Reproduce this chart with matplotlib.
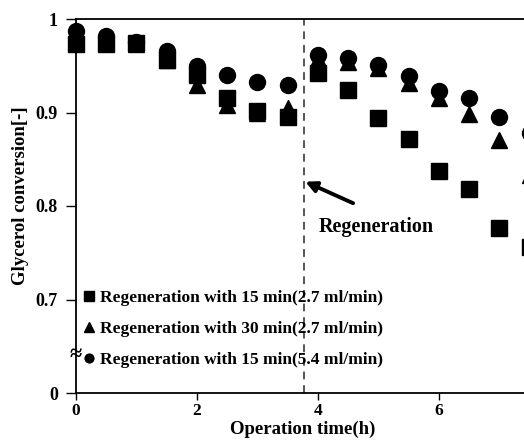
import matplotlib

matplotlib.use("Agg")

import matplotlib.pyplot as plt

plt.rcParams["font.family"] = ["Liberation Serif", "DejaVu Serif"]
plt.rcParams["font.weight"] = "bold"

# operation time (h)
hours = [0, 0.5, 1.0, 1.5, 2.0, 2.5, 3.0, 3.5, 4.0, 4.5, 5.0, 5.5, 6.0, 6.5, 7.0, 7.5]

# glycerol conversion [-]
regen_15min_27 = [0.973, 0.973, 0.974, 0.956, 0.940, 0.915, 0.902, 0.895,
                  0.942, 0.924, 0.894, 0.872, 0.837, 0.818, 0.776, 0.756]
regen_30min_27 = [0.975, 0.975, 0.973, 0.956, 0.929, 0.908, 0.900, 0.905,
                  0.957, 0.954, 0.948, 0.932, 0.916, 0.898, 0.871, 0.833]
regen_15min_54 = [0.987, 0.982, 0.975, 0.966, 0.950, 0.940, 0.933, 0.929,
                  0.962, 0.958, 0.951, 0.939, 0.923, 0.915, 0.895, 0.878]

series_labels = [
    "Regeneration with 15 min(2.7 ml/min)",
    "Regeneration with 30 min(2.7 ml/min)",
    "Regeneration with 15 min(5.4 ml/min)",
]

y_ticks = [0.6, 0.7, 0.8, 0.9, 1.0]
y_tick_labels = ["0", "0.7", "0.8", "0.9", "1"]
x_ticks = [0, 2, 4, 6]
regen_time = 3.77

fig = plt.figure(figsize=(5.24, 4.43), dpi=100)
ax = fig.add_axes([76 / 524, 50 / 443, 448 / 524, 374 / 443])

ax.plot(hours, regen_15min_27, ls="none", marker="s", ms=12, color="black",
        clip_on=False, label=series_labels[0])
ax.plot(hours, regen_30min_27, ls="none", marker="^", ms=12, color="black",
        clip_on=False, label=series_labels[1])
ax.plot(hours, regen_15min_54, ls="none", marker="o", ms=11.5, color="black",
        clip_on=False, label=series_labels[2])

ax.axvline(regen_time, color="#555555", ls=(0, (4, 3)), lw=1.4)
ax.annotate("", xy=(3.79, 0.826), xytext=(4.58, 0.803),
            arrowprops=dict(arrowstyle="-|>", color="black", lw=2.8,
                            mutation_scale=16, shrinkA=0, shrinkB=0))
ax.text(4.96, 0.778, "Regeneration", ha="center", va="center",
        fontsize=14.5, fontweight="bold")

ax.set_xlim(0, 7.405)
ax.set_ylim(0.6, 1.0)
ax.set_xticks(x_ticks)
ax.set_yticks(y_ticks)
ax.set_yticklabels(y_tick_labels)
ax.tick_params(axis="y", direction="out", length=7, width=1, labelsize=13, pad=6)
ax.tick_params(axis="x", direction="out", length=5, width=1, labelsize=12.5, pad=2)
for lab in ax.get_xticklabels() + ax.get_yticklabels():
    lab.set_fontweight("bold")

for side in ["left", "bottom", "top"]:
    ax.spines[side].set_linewidth(1.3)
ax.spines["right"].set_visible(False)

# axis break mark
ax.text(0, 0.641, "\u2248", transform=ax.get_yaxis_transform(), ha="center",
        va="center", fontsize=16, fontweight="bold")

ax.set_xlabel("Operation time(h)", fontsize=13.5, fontweight="bold")
ax.set_ylabel("Glycerol conversion[-]", fontsize=13.5, fontweight="bold")
ax.xaxis.set_label_coords(0.505, -0.074)
ax.yaxis.set_label_coords(-0.104, 0.527)

ax.legend(loc="lower left", bbox_to_anchor=(-0.012, 0.035), frameon=False,
          markerscale=0.55, handlelength=0.7, handletextpad=0.3,
          labelspacing=0.85, borderaxespad=0.3, prop=dict(size=12.5, weight="bold"))

fig.savefig("out.png", dpi=100)
